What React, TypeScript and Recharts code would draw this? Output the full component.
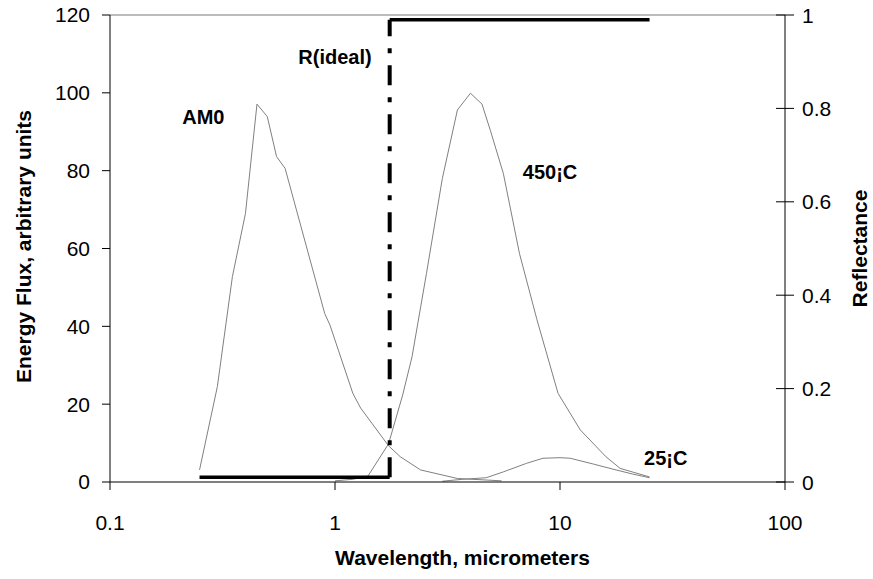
import { Label, Line, LineChart, ReferenceDot, ReferenceLine, XAxis, YAxis } from "recharts";

const FONT = '"Liberation Sans", Arial, sans-serif';

// AM0 solar spectrum
const am0Wavelength = [0.25, 0.3, 0.35, 0.4, 0.45, 0.5, 0.55, 0.6, 0.9, 0.95, 1.2, 1.3, 1.73, 1.95, 2.4, 3.5, 5.5];
const am0Flux = [3.1, 24.5, 52.8, 69, 97.1, 93.9, 83.6, 80.6, 43.3, 40.3, 22.8, 19, 9.3, 6.5, 3.1, 0.9, 0.3];

// blackbody at 450 C
const hotWavelength = [1.0, 1.2, 1.4, 1.73, 2.0, 2.2, 2.55, 3.0, 3.5, 4.0, 4.5, 4.9, 5.6, 6.6, 7.9, 9.8, 12.3, 16, 18.5, 25];
const hotFlux = [0.3, 0.7, 1.5, 9.8, 22.4, 32.2, 53.6, 78, 95.6, 99.9, 97.1, 90.4, 79.3, 58.8, 41.7, 22.8, 13.4, 6.5, 3.5, 1.3];

// blackbody at 25 C
const coldWavelength = [3.0, 3.7, 4.7, 5.6, 7.1, 8.4, 10, 11.1, 14.1, 17.2, 21, 25];
const coldFlux = [0.2, 0.7, 1.1, 2.6, 4.8, 6.1, 6.25, 6.1, 4.6, 3.3, 2.05, 1.1];

// ideal reflectance step
const rWavelength = [0.25, 1.75, 1.75, 25];
const rValue = [0.01, 0.01, 0.99, 0.99];

const xTicks = [0.1, 1, 10, 100];
const fluxTicks = [0, 20, 40, 60, 80, 100, 120];
const reflTicks = [0, 0.2, 0.4, 0.6, 0.8, 1];

const notes = [
  { text: "AM0", w: 0.26, v: 93.8 },
  { text: "R(ideal)", w: 1.0, v: 109.2 },
  { text: "450¡C", w: 9.03, v: 79.7 },
  { text: "25¡C", w: 29.5, v: 6.2 },
];

const toRows = (ws: number[], vs: number[]) => ws.map((w, i) => ({ w, v: vs[i] }));

const am0 = toRows(am0Wavelength, am0Flux);
const hot = toRows(hotWavelength, hotFlux);
const cold = toRows(coldWavelength, coldFlux);
const rRows = toRows(rWavelength, rValue);
const rLow = rRows.slice(0, 2);
const rStep = rRows.slice(1, 3);
const rHigh = rRows.slice(2, 4);

const RightTick = (props: any) => {
  const { x, y, payload } = props;
  return (
    <g>
      <line x1={x - 9} x2={x + 9} y1={y} y2={y} stroke="#000" />
      <text x={x + 17} y={y} dy="0.36em" fontSize={21} fontFamily={FONT} fill="#000">
        {payload.value}
      </text>
    </g>
  );
};

const tickStyle = { fontSize: 21, fontFamily: FONT, fill: "#000" };
const titleStyle = { fontSize: 21, fontFamily: FONT, fontWeight: 700, fill: "#000" };

export default function App() {
  return (
    <div style={{ position: "absolute", left: 0, top: 0, background: "#fff" }}>
      <LineChart width={873} height={579} margin={{ top: 15, right: 28, bottom: 37, left: 40 }}>
        <XAxis
          dataKey="w"
          type="number"
          scale="log"
          domain={[0.1, 100]}
          ticks={xTicks}
          allowDataOverflow
          height={60}
          tickSize={8}
          tickMargin={25}
          tick={tickStyle}
          stroke="#000"
        >
          <Label
            content={(p: any) => {
              const vb = p.viewBox;
              return (
                <text x={vb.x + vb.width / 2 + 15} y={557} dy="0.36em" textAnchor="middle" style={titleStyle}>
                  Wavelength, micrometers
                </text>
              );
            }}
          />
        </XAxis>
        <YAxis
          yAxisId="left"
          domain={[0, 120]}
          ticks={fluxTicks}
          width={70}
          tickSize={8}
          tickMargin={12}
          tick={tickStyle}
          stroke="#000"
        >
          <Label
            content={(p: any) => {
              const vb = p.viewBox;
              const cx = vb.x + vb.width - 87;
              const cy = vb.y + vb.height / 2 - 2;
              return (
                <text x={cx} y={cy} dy="0.36em" textAnchor="middle" transform={`rotate(-90 ${cx} ${cy})`} style={titleStyle}>
                  Energy Flux, arbitrary units
                </text>
              );
            }}
          />
        </YAxis>
        <YAxis
          yAxisId="right"
          orientation="right"
          domain={[0, 1]}
          ticks={reflTicks}
          width={60}
          tickSize={0}
          tickMargin={0}
          tickLine={false}
          tick={<RightTick />}
          stroke="#000"
        >
          <Label
            content={(p: any) => {
              const vb = p.viewBox;
              const cx = vb.x + 74;
              const cy = vb.y + vb.height / 2;
              return (
                <text x={cx} y={cy} dy="0.36em" textAnchor="middle" transform={`rotate(-90 ${cx} ${cy})`} style={titleStyle}>
                  Reflectance
                </text>
              );
            }}
          />
        </YAxis>
        <ReferenceLine yAxisId="left" y={120} stroke="#a6a6a6" strokeWidth={1.5} />

        <Line yAxisId="left" data={am0} dataKey="v" type="linear" stroke="#808080" strokeWidth={1} dot={false} isAnimationActive={false} />
        <Line yAxisId="left" data={hot} dataKey="v" type="linear" stroke="#808080" strokeWidth={1} dot={false} isAnimationActive={false} />
        <Line yAxisId="left" data={cold} dataKey="v" type="linear" stroke="#808080" strokeWidth={1} dot={false} isAnimationActive={false} />

        <Line yAxisId="right" data={rLow} dataKey="v" type="linear" stroke="#000" strokeWidth={3.5} dot={false} isAnimationActive={false} />
        <Line yAxisId="right" data={rStep} dataKey="v" type="linear" stroke="#000" strokeWidth={4} strokeDasharray="20 12 5 12" dot={false} isAnimationActive={false} />
        <Line yAxisId="right" data={rHigh} dataKey="v" type="linear" stroke="#000" strokeWidth={3.5} dot={false} isAnimationActive={false} />

        {notes.map((n) => (
          <ReferenceDot
            key={n.text}
            yAxisId="left"
            x={n.w}
            y={n.v}
            r={0}
            stroke="none"
            fill="none"
            label={(p: any) => {
              const vb = p.viewBox;
              return (
                <text x={vb.x + vb.width / 2} y={vb.y + vb.height / 2} dy="0.36em" textAnchor="middle" style={{ ...titleStyle, fontSize: 20 }}>
                  {n.text}
                </text>
              );
            }}
          />
        ))}
      </LineChart>
    </div>
  );
}
